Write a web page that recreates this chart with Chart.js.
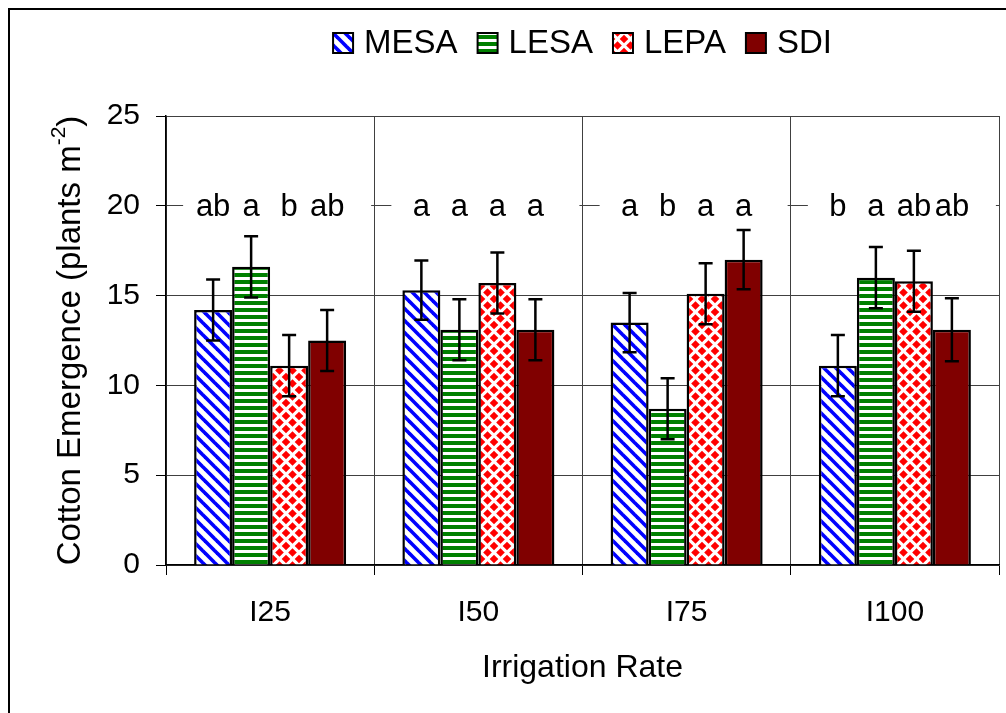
<!DOCTYPE html>
<html>
<head>
<meta charset="utf-8">
<script src="https://cdn.jsdelivr.net/npm/chart.js@4.4.1/dist/chart.umd.min.js"></script>
<style>
  html, body { margin: 0; padding: 0; background: #fff; }
  canvas { display: block; }
</style>
</head>
<body>
<canvas id="emergence" width="1006" height="713"></canvas>
<script>
const rates = ['I25', 'I50', 'I75', 'I100'];
const systems = ['MESA', 'LESA', 'LEPA', 'SDI'];

// stand counts, plants per m2
const mesa = [14.2, 15.3, 13.5, 11.1];
const lesa = [16.6, 13.1, 8.7, 16.0];
const lepa = [11.1, 15.7, 15.1, 15.8];
const sdi = [12.5, 13.1, 17.0, 13.1];

// standard errors
const mesaErr = [1.7, 1.65, 1.65, 1.7];
const lesaErr = [1.7, 1.7, 1.7, 1.7];
const lepaErr = [1.7, 1.7, 1.7, 1.7];
const sdiErr = [1.7, 1.7, 1.65, 1.75];

// mean separation letters
const mesaLetters = ['ab', 'a', 'a', 'b'];
const lesaLetters = ['a', 'a', 'b', 'a'];
const lepaLetters = ['b', 'a', 'a', 'ab'];
const sdiLetters = ['ab', 'a', 'a', 'ab'];

const yTicks = [0, 5, 10, 15, 20, 25];
const letterLevel = 20;

const FONT = 'Arial, "Liberation Sans", sans-serif';
const canvas = document.getElementById('emergence');
const ctx = canvas.getContext('2d');

function makePattern(w, h, paint) {
  const c = document.createElement('canvas');
  c.width = w;
  c.height = h;
  const g = c.getContext('2d');
  g.fillStyle = '#fff';
  g.fillRect(0, 0, w, h);
  paint(g, w, h);
  return ctx.createPattern(c, 'repeat');
}

// blue back-diagonal stripes
const diagStripes = makePattern(12, 12, (g, w, h) => {
  g.strokeStyle = '#0000ff';
  g.lineWidth = 3.6;
  for (const o of [-w, 0, w]) {
    g.beginPath();
    g.moveTo(o - 2, -2);
    g.lineTo(o + w + 2, h + 2);
    g.stroke();
  }
});

// green horizontal stripes
const hStripes = makePattern(8, 7, (g, w) => {
  g.fillStyle = '#008000';
  g.fillRect(0, 0, w, 4);
});

// red diamonds
const diamonds = makePattern(13, 13, (g, w, h) => {
  g.fillStyle = '#ff0000';
  const d = 4.3;
  const m = w / 2;
  for (const [cx, cy] of [[m, m], [0, 0], [w, 0], [0, h], [w, h]]) {
    g.beginPath();
    g.moveTo(cx, cy - d);
    g.lineTo(cx + d, cy);
    g.lineTo(cx, cy + d);
    g.lineTo(cx - d, cy);
    g.closePath();
    g.fill();
  }
});

const fills = [diagStripes, hStripes, diamonds, '#800000'];
const series = [mesa, lesa, lepa, sdi];
const errs = [mesaErr, lesaErr, lepaErr, sdiErr];
const letters = [mesaLetters, lesaLetters, lepaLetters, sdiLetters];

const datasets = systems.map((name, i) => ({
  label: name,
  data: series[i],
  errors: errs[i],
  letters: letters[i],
  backgroundColor: fills[i],
  borderColor: '#000',
  borderWidth: 2.5,
}));

// page frame, legend, error bars, letters and axis titles
const decorations = {
  id: 'decorations',
  beforeDraw(chart) {
    const c = chart.ctx;
    c.save();
    c.fillStyle = '#fff';
    c.fillRect(0, 0, chart.width, chart.height);
    c.strokeStyle = '#000';
    c.lineWidth = 2;
    c.beginPath();
    c.moveTo(9, chart.height + 2);
    c.lineTo(9, 9);
    c.lineTo(chart.width + 2, 9);
    c.stroke();
    c.restore();
  },
  afterDatasetsDraw(chart) {
    const c = chart.ctx;
    const y = chart.scales.y;
    c.save();

    // error bars
    c.strokeStyle = '#000';
    c.lineWidth = 2.5;
    chart.data.datasets.forEach((ds, di) => {
      chart.getDatasetMeta(di).data.forEach((bar, i) => {
        const hi = y.getPixelForValue(ds.data[i] + ds.errors[i]);
        const lo = y.getPixelForValue(ds.data[i] - ds.errors[i]);
        c.beginPath();
        c.moveTo(bar.x, hi);
        c.lineTo(bar.x, lo);
        c.moveTo(bar.x - 7, hi);
        c.lineTo(bar.x + 7, hi);
        c.moveTo(bar.x - 7, lo);
        c.lineTo(bar.x + 7, lo);
        c.stroke();
      });
    });

    // letters over each group
    const yl = y.getPixelForValue(letterLevel);
    const first = chart.getDatasetMeta(0).data;
    const last = chart.getDatasetMeta(chart.data.datasets.length - 1).data;
    c.fillStyle = '#fff';
    first.forEach((bar, i) => {
      c.fillRect(bar.x - 30, yl - 16, last[i].x - bar.x + 74, 32);
    });
    c.fillStyle = '#000';
    c.font = `31px ${FONT}`;
    c.textAlign = 'center';
    c.textBaseline = 'middle';
    chart.data.datasets.forEach((ds, di) => {
      chart.getDatasetMeta(di).data.forEach((bar, i) => {
        c.fillText(ds.letters[i], bar.x, yl + 2);
      });
    });
    c.restore();
  },
  afterDraw(chart) {
    const c = chart.ctx;
    const area = chart.chartArea;
    const cx = (area.left + area.right) / 2;
    const cy = (area.top + area.bottom) / 2;
    c.save();
    c.fillStyle = '#000';
    c.textBaseline = 'middle';

    // x title
    c.font = `32px ${FONT}`;
    c.textAlign = 'center';
    c.fillText('Irrigation Rate', cx, 668);

    // y title with superscript
    c.save();
    c.translate(71, cy);
    c.rotate(-Math.PI / 2);
    const main = 'Cotton Emergence (plants m';
    const sup = '-2';
    const tail = ')';
    c.font = `33px ${FONT}`;
    const wMain = c.measureText(main).width;
    const wTail = c.measureText(tail).width;
    c.font = `21px ${FONT}`;
    const wSup = c.measureText(sup).width;
    const x0 = -(wMain + wSup + wTail) / 2;
    c.textAlign = 'left';
    c.font = `33px ${FONT}`;
    c.fillText(main, x0, 0);
    c.font = `21px ${FONT}`;
    c.fillText(sup, x0 + wMain, -12);
    c.font = `33px ${FONT}`;
    c.fillText(tail, x0 + wMain + wSup, 0);
    c.restore();

    // legend
    c.font = `33px ${FONT}`;
    const box = 20, gap = 11, spacing = 20;
    const widths = chart.data.datasets.map((ds) => box + gap + c.measureText(ds.label).width);
    const total = widths.reduce((a, b) => a + b, 0) + spacing * (widths.length - 1);
    let lx = cx - total / 2;
    const ly = 43;
    c.textAlign = 'left';
    chart.data.datasets.forEach((ds, i) => {
      c.fillStyle = ds.backgroundColor;
      c.fillRect(lx, ly - box / 2, box, box);
      c.strokeStyle = '#000';
      c.lineWidth = 2;
      c.strokeRect(lx, ly - box / 2, box, box);
      c.fillStyle = '#000';
      c.fillText(ds.label, lx + box + gap, ly + 1);
      lx += widths[i] + spacing;
    });
    c.restore();
  },
};

new Chart(canvas, {
  type: 'bar',
  data: { labels: rates, datasets },
  options: {
    responsive: false,
    animation: false,
    events: [],
    layout: { padding: { top: 116, right: 7, bottom: 0, left: 0 } },
    datasets: { bar: { categoryPercentage: 0.73, barPercentage: 1 } },
    plugins: { legend: { display: false }, tooltip: { enabled: false } },
    scales: {
      x: {
        grid: { offset: true, color: '#404040', tickColor: '#000', tickLength: 10 },
        border: { color: '#000', width: 1.5 },
        ticks: { color: '#000', font: { family: FONT, size: 30 }, padding: 20 },
        afterFit: (s) => { s.height = 148; },
      },
      y: {
        min: 0,
        max: 25,
        grid: { color: '#404040', tickColor: '#000', tickLength: 10 },
        border: { color: '#000', width: 1.5 },
        ticks: { color: '#000', font: { family: FONT, size: 30 }, padding: 16 },
        afterBuildTicks: (s) => { s.ticks = yTicks.map((v) => ({ value: v })); },
        afterFit: (s) => { s.width = 166; },
      },
    },
  },
  plugins: [decorations],
});
</script>
</body>
</html>
